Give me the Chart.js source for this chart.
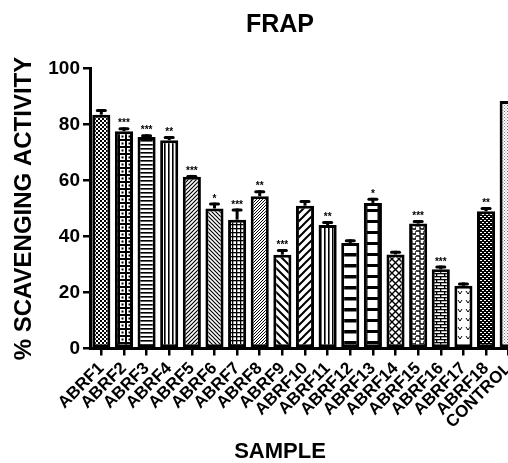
<!DOCTYPE html>
<html><head><meta charset="utf-8">
<script src="https://cdn.jsdelivr.net/npm/chart.js@4"></script>
<style>html,body{margin:0;padding:0;overflow:hidden;background:#fff}canvas{display:block}</style>
</head><body>
<canvas id="c" width="560" height="463"></canvas>
<script>
const categories = ['ABRF1','ABRF2','ABRF3','ABRF4','ABRF5','ABRF6','ABRF7','ABRF8','ABRF9','ABRF10','ABRF11','ABRF12','ABRF13','ABRF14','ABRF15','ABRF16','ABRF17','ABRF18','CONTROL'];
const values = [83.5,77.6,75.5,74.4,61.3,50.0,46.0,54.4,33.5,51.0,44.1,37.7,52.0,33.6,44.6,28.3,22.4,49.0,88.4];
const errors = [2.0,1.4,1.0,1.5,0.7,2.1,4.0,2.1,2.0,2.0,1.4,1.3,1.8,1.3,1.3,1.3,1.2,1.5,0];
const stars = ['','***','***','**','***','*','***','**','***','','**','','*','','***','***','','**',''];
const yTicks = [0,20,40,60,80,100];

const FONT = '"Liberation Sans", Arial, Helvetica, sans-serif';
const ctx = document.getElementById('c').getContext('2d');

function pat(w, h, draw) {
  const c = document.createElement('canvas');
  c.width = w; c.height = h;
  const g = c.getContext('2d');
  g.fillStyle = '#fff'; g.fillRect(0, 0, w, h);
  g.fillStyle = '#000'; g.strokeStyle = '#000';
  draw(g, w, h);
  return ctx.createPattern(c, 'repeat');
}
function diag(g, w, lw, back) {
  g.lineWidth = lw; g.beginPath();
  for (let k = -1; k <= 1; k++) {
    if (!back) { g.moveTo(k * w - 1, w + 1); g.lineTo(k * w + w + 1, -1); }
    else { g.moveTo(k * w - 1, -1); g.lineTo(k * w + w + 1, w + 1); }
  }
  g.stroke();
}
const patterns = [
  pat(4, 4, g => { g.fillRect(0, 0, 2, 2); g.fillRect(2, 2, 2, 2); }),
  pat(7, 7, g => { g.fillRect(0, 0, 7, 7); g.fillStyle = '#fff'; g.fillRect(1, 1, 5, 5); g.fillStyle = '#000'; g.fillRect(2.5, 2.5, 2, 2); }),
  pat(4, 4, g => { g.fillRect(0, 0, 4, 1.6); }),
  pat(4, 4, g => { g.fillRect(0, 0, 1.6, 4); }),
  pat(4, 4, g => diag(g, 4, 1.2, false)),
  pat(4, 4, g => diag(g, 4, 1.2, true)),
  pat(4, 4, g => { g.fillRect(0, 0, 4, 1.3); g.fillRect(0, 0, 1.3, 4); }),
  pat(3, 3, g => diag(g, 3, 1, false)),
  pat(8, 8, g => diag(g, 8, 2, true)),
  pat(8, 8, g => diag(g, 8, 2, false)),
  pat(4, 4, g => { g.fillRect(0, 0, 1.6, 4); }),
  pat(11, 11, g => { g.fillRect(0, 0, 11, 3.5); }),
  pat(12, 11, g => { g.fillRect(0, 0, 12, 3); g.fillRect(5.5, 0, 2, 11); }),
  pat(7, 7, g => { g.lineWidth = 1.4; g.beginPath(); g.moveTo(0, 0); g.lineTo(7, 7); g.moveTo(7, 0); g.lineTo(0, 7); g.stroke(); }),
  pat(8, 5, g => { g.lineWidth = 1.3; g.beginPath(); g.moveTo(0, 1); g.lineTo(4, 1); g.lineTo(4, 4); g.lineTo(8, 4); g.moveTo(8, 1); g.lineTo(8, 4); g.stroke(); }),
  pat(8, 6, g => { g.fillRect(0, 0, 8, 1.3); g.fillRect(0, 3, 8, 1.3); g.fillRect(0, 0, 1.3, 3); g.fillRect(4, 3, 1.3, 3); }),
  pat(8, 9, g => { g.lineWidth = 1; g.beginPath(); g.moveTo(2, 3); g.lineTo(4, 6); g.lineTo(6, 3); g.stroke(); }),
  pat(4, 4, g => { g.fillRect(0, 0, 4, 4); g.fillStyle = '#fff'; g.fillRect(0, 0, 2, 1); g.fillRect(2, 2, 2, 1); }),
  pat(3, 3, g => { g.fillStyle = '#777'; g.fillRect(0, 0, 1, 1); g.fillRect(1.5, 1.5, 1, 1); })
];

const errorBars = {
  id: 'errorBars',
  afterDatasetsDraw(chart) {
    const meta = chart.getDatasetMeta(0);
    const ys = chart.scales.y;
    const c = chart.ctx;
    c.save();
    c.strokeStyle = '#000';
    c.fillStyle = '#000';
    meta.data.forEach((bar, i) => {
      const e = errors[i];
      const yTop = ys.getPixelForValue(values[i] + e);
      if (e > 0) {
        const yv = ys.getPixelForValue(values[i]);
        c.lineWidth = 3;
        c.beginPath(); c.moveTo(bar.x, yv); c.lineTo(bar.x, yTop); c.stroke();
        c.lineWidth = 3; c.lineCap = 'round';
        c.beginPath(); c.moveTo(bar.x - 4, yTop + 1.5); c.lineTo(bar.x + 4, yTop + 1.5); c.stroke();
        c.lineCap = 'butt';
      }
      if (stars[i]) {
        c.font = 'bold 10px ' + FONT;
        c.textAlign = 'center';
        c.textBaseline = 'alphabetic';
        c.fillText(stars[i], bar.x, yTop - 1);
      }
    });
    c.restore();
  }
};

new Chart(ctx, {
  type: 'bar',
  data: {
    labels: categories,
    datasets: [{
      data: values,
      backgroundColor: patterns,
      borderColor: '#000',
      borderWidth: 3,
      borderSkipped: false,
      categoryPercentage: 0.8,
      barPercentage: 1.0
    }]
  },
  options: {
    responsive: false,
    animation: false,
    layout: { padding: { left: 40, right: 40, top: 0, bottom: 0 } },
    plugins: {
      legend: { display: false },
      tooltip: { enabled: false },
      title: { display: true, text: 'FRAP', color: '#000', font: { family: FONT, size: 25, weight: 'bold', lineHeight: 1.2 }, padding: { top: 10, bottom: 28.5 } },
      subtitle: { display: true, position: 'bottom', text: 'SAMPLE', color: '#000', font: { family: FONT, size: 22, weight: 'bold', lineHeight: 1 }, padding: { top: 0, bottom: 0 } }
    },
    scales: {
      x: {
        offset: true,
        grid: { display: true, offset: false, drawOnChartArea: false, drawTicks: true, tickLength: 7, color: '#000', lineWidth: 2.5 },
        border: { display: true, color: '#000', width: 3 },
        ticks: { color: '#000', autoSkip: false, minRotation: 45, maxRotation: 45, padding: 3, font: { family: FONT, size: 17, weight: 'bold' } },
        afterFit: s => { s.height = 92.5; }
      },
      y: {
        min: 0, max: 100,
        afterBuildTicks: s => { s.ticks = yTicks.map(v => ({ value: v })); },
        grid: { display: true, drawOnChartArea: false, drawTicks: true, tickLength: 7, color: '#000', lineWidth: 2.5 },
        border: { display: true, color: '#000', width: 3 },
        ticks: { color: '#000', padding: 3, font: { family: FONT, size: 19, weight: 'bold' } },
        title: { display: true, text: '% SCAVENGING ACTIVITY', color: '#000', font: { family: FONT, size: 24, weight: 'bold', lineHeight: 1.2 }, padding: { top: -30.5, bottom: 0 } },
        afterFit: s => { s.width = 50; }
      }
    }
  },
  plugins: [errorBars]
});
</script>
</body></html>
